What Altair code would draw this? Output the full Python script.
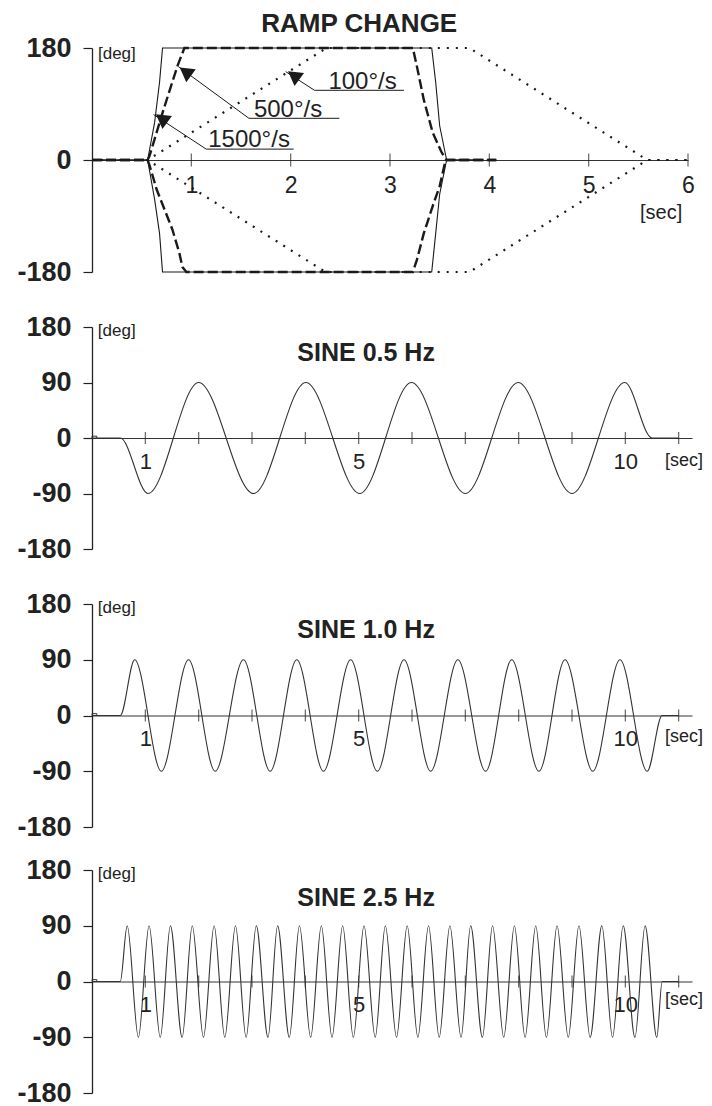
import altair as alt
import pandas as pd

FONT = "Liberation Sans"
INK = "#1a1a1a"
GREY = "#333333"

# ---------------- RAMP CHANGE panel (time [s], angle [deg]) ----------------
r1500_t = [0.00, 0.56, 0.63, 0.68, 0.71, 3.42, 3.46, 3.50, 3.57, 3.90]
r1500_pos = [0, 0, 60, 125, 180, 180, 125, 55, 0, 0]
r1500_neg = [0, 0, -63, -118, -180, -180, -118, -55, 0, 0]

r500_pos_t = [0.00, 0.56, 0.58, 0.65, 0.72, 0.79, 0.86, 0.93, 3.23, 3.27, 3.34, 3.43, 3.52, 3.57, 4.07]
r500_pos = [0, 0, 7, 44, 81, 116, 151, 180, 180, 151, 97, 44, 12, 0, 0]
r500_neg_t = [0.00, 0.56, 0.58, 0.65, 0.81, 0.88, 0.91, 0.95, 3.23, 3.27, 3.34, 3.43, 3.50, 3.56, 4.07]
r500_neg = [0, 0, -9, -47, -112, -150, -172, -180, -180, -161, -118, -74, -42, 0, 0]

r100_pos_t = [0.00, 0.56, 2.36, 3.80, 5.59, 6.00]
r100_pos = [0, 0, 180, 180, 0, 0]
r100_neg_t = [0.00, 0.56, 2.35, 3.80, 5.59, 6.00]
r100_neg = [0, 0, -180, -180, 0, 0]

# annotation arrows: tip, tail (start of underline), underline end, label, head
ann_label = ["100°/s", "500°/s", "1500°/s"]
ann_tip_t = [1.95, 0.87, 0.62]
ann_tip_v = [142, 150, 73]
ann_tail_t = [2.24, 1.58, 1.15]
ann_tail_v = [112, 67, 17.5]
ann_end_t = [3.14, 2.49, 2.03]
ann_text_t = [2.38, 1.63, 1.17]
ann_text_v = [114, 69.5, 21.5]
ann_head_t = [2.03, 0.94, 0.70]
ann_head_v = [136, 142, 67]

ramp_ticks = [1, 2, 3, 4, 5, 6]
ramp_xlabels = [1, 2, 3, 4, 5, 6]
ramp_ylabels = [-180, 0, 180]

# ---------------- SINE panels: turning points ----------------
s05_t = [0.00, 0.53, 1.05, 2.00, 3.03, 4.01, 5.02, 5.99, 7.00, 7.99, 9.00, 9.99, 10.50, 11.00]
s05_v = [0, 0, -90, 90, -90, 90, -90, 90, -90, 90, -90, 90, 0, 0]

s10_t = [0.00, 0.53, 0.80, 1.30, 1.81, 2.31, 2.84, 3.34, 3.84, 4.34, 4.85, 5.35,
         5.85, 6.35, 6.86, 7.38, 7.87, 8.38, 8.87, 9.39, 9.90, 10.41, 10.69, 11.00]
s10_v = [0, 0, 90, -90, 90, -90, 90, -90, 90, -90, 90, -90,
         90, -90, 90, -90, 90, -90, 90, -90, 90, -90, 0, 0]

s25_t = [0.00, 0.53,
         0.66, 0.87, 1.07, 1.28, 1.47, 1.69, 1.88, 2.09, 2.29, 2.49,
         2.69, 2.89, 3.08, 3.30, 3.48, 3.70, 3.89, 4.10, 4.30, 4.50,
         4.70, 4.90, 5.10, 5.31, 5.50, 5.71, 5.91, 6.11, 6.31, 6.51,
         6.71, 6.92, 7.10, 7.32, 7.51, 7.72, 7.92, 8.12, 8.32, 8.52,
         8.72, 8.93, 9.13, 9.34, 9.56, 9.76, 9.96, 10.18, 10.37, 10.59,
         10.69, 11.00]
s25_v = [0, 0,
         90, -90, 90, -90, 90, -90, 90, -90, 90, -90,
         90, -90, 90, -90, 90, -90, 90, -90, 90, -90,
         90, -90, 90, -90, 90, -90, 90, -90, 90, -90,
         90, -90, 90, -90, 90, -90, 90, -90, 90, -90,
         90, -90, 90, -90, 90, -90, 90, -90, 90, -90,
         0, 0]

blip_t = [0.00, 0.00, 0.09, 0.09]
blip_v = [0, 3, 3, 0]

sine_ticks = [1, 2, 3, 4, 5, 6, 7, 8, 9, 10, 11]
sine_xlabels = [1, 5, 10]
sine_ylabels = [-180, -90, 0, 90, 180]


def enc_x(domain, labels, size, height, pad):
    return alt.X("t:Q", scale=alt.Scale(domain=domain, nice=False, zero=False),
                 axis=alt.Axis(values=labels, title=None, labelExpr="'' + datum.value", grid=False,
                               ticks=False, tickSize=0, domain=True, domainColor=GREY,
                               domainWidth=1, labelFont=FONT, labelFontSize=size,
                               labelColor="#222", labelPadding=pad, labelFlush=False,
                               labelOverlap=False, offset=-height / 2))


def enc_y(labels):
    return alt.Y("v:Q", scale=alt.Scale(domain=[-180, 180], nice=False, zero=False),
                 axis=alt.Axis(values=labels, title=None, labelExpr="'' + datum.value", grid=False,
                               tickSize=9, tickColor="#222", tickWidth=1.2,
                               domainColor="#222", domainWidth=1.3,
                               labelFont=FONT, labelFontWeight="bold", labelFontSize=27,
                               labelColor="#222", labelPadding=12))


def frame(rows):
    return pd.DataFrame(rows, columns=["t", "v", "g", "o"])


# ---------- build ramp panel ----------
H1, W1 = 224, 596
X1 = enc_x([0, 6], ramp_xlabels, 23, H1, 14)
Y1 = enc_y(ramp_ylabels)

solid = frame([(t, v, "p", i) for i, (t, v) in enumerate(zip(r1500_t, r1500_pos))] +
              [(t, v, "n", i) for i, (t, v) in enumerate(zip(r1500_t, r1500_neg))])
dashed = frame([(t, v, "p", i) for i, (t, v) in enumerate(zip(r500_pos_t, r500_pos))] +
               [(t, v, "n", i) for i, (t, v) in enumerate(zip(r500_neg_t, r500_neg))])
dotted = frame([(t, v, "p", i) for i, (t, v) in enumerate(zip(r100_pos_t, r100_pos))] +
               [(t, v, "n", i) for i, (t, v) in enumerate(zip(r100_neg_t, r100_neg))])

leader_rows = []
for i in range(len(ann_label)):
    leader_rows.append((ann_tip_t[i], ann_tip_v[i], ann_label[i], 0))
    leader_rows.append((ann_tail_t[i], ann_tail_v[i], ann_label[i], 1))
    leader_rows.append((ann_end_t[i], ann_tail_v[i], ann_label[i], 2))
leaders = frame(leader_rows)
heads = pd.DataFrame({"t": ann_head_t, "v": ann_head_v})
ann_text = pd.DataFrame({"t": ann_text_t, "v": ann_text_v, "label": ann_label})

ramp_tick_df = pd.DataFrame({"t": ramp_ticks, "v": [0] * len(ramp_ticks)})


def line_layer(df, **mk):
    return alt.Chart(df).mark_line(**mk).encode(
        x=X1, y=Y1, detail="g:N", order="o:Q")


ramp = alt.layer(
    alt.Chart(ramp_tick_df).mark_tick(orient="vertical", size=13, thickness=1.2, color="#222").encode(x=X1, y=Y1),
    line_layer(dotted, color=INK, strokeWidth=2.2, strokeDash=[2, 7]),
    line_layer(dashed, color=INK, strokeWidth=2.4, strokeDash=[10, 4]),
    line_layer(solid, color=INK, strokeWidth=1.1),
    alt.Chart(leaders).mark_line(color=INK, strokeWidth=1).encode(x=X1, y=Y1, detail="g:N", order="o:Q"),
    alt.Chart(heads).mark_point(shape="triangle-up", filled=True, size=260, angle=306,
                                color=INK, opacity=1).encode(x=X1, y=Y1),
    alt.Chart(ann_text).mark_text(font=FONT, fontSize=24, align="left", baseline="alphabetic",
                                  color="#222").encode(x=X1, y=Y1, text="label:N"),
    alt.Chart(pd.DataFrame({"t": [2.69], "v": [218], "label": ["RAMP CHANGE"]})).mark_text(
        font=FONT, fontSize=26, fontWeight="bold", align="center", baseline="middle",
        color="#222").encode(x=X1, y=Y1, text="label:N"),
    alt.Chart(pd.DataFrame({"t": [0.06], "v": [171], "label": ["[deg]"]})).mark_text(
        font=FONT, fontSize=17, align="left", baseline="middle", color="#222").encode(
        x=X1, y=Y1, text="label:N"),
    alt.Chart(pd.DataFrame({"t": [5.73], "v": [-85], "label": ["[sec]"]})).mark_text(
        font=FONT, fontSize=20, align="center", baseline="middle", color="#222").encode(
        x=X1, y=Y1, text="label:N"),
).properties(width=W1, height=H1)


def sine_panel(times, values, title, title_v, sec_v, height):
    W = 600
    X = enc_x([0, 11.25], sine_xlabels, 22, height, 13)
    Y = enc_y(sine_ylabels)
    wave = pd.DataFrame({"t": times, "v": values})
    blip = pd.DataFrame({"t": blip_t, "v": blip_v, "o": list(range(len(blip_t)))})
    tick_df = pd.DataFrame({"t": sine_ticks, "v": [0] * len(sine_ticks)})
    return alt.layer(
        alt.Chart(tick_df).mark_tick(orient="vertical", size=12, thickness=1.2, color="#222").encode(x=X, y=Y),
        alt.Chart(blip).mark_line(color=GREY, strokeWidth=1).encode(x=X, y=Y, order="o:Q"),
        alt.Chart(wave).mark_line(color=GREY, strokeWidth=1.1, interpolate="monotone").encode(x=X, y=Y),
        alt.Chart(pd.DataFrame({"t": [5.14], "v": [title_v], "label": [title]})).mark_text(
            font=FONT, fontSize=25, fontWeight="bold", align="center", baseline="middle",
            color="#222").encode(x=X, y=Y, text="label:N"),
        alt.Chart(pd.DataFrame({"t": [0.11], "v": [174], "label": ["[deg]"]})).mark_text(
            font=FONT, fontSize=17, align="left", baseline="middle", color="#222").encode(
            x=X, y=Y, text="label:N"),
        alt.Chart(pd.DataFrame({"t": [11.1], "v": [sec_v], "label": ["[sec]"]})).mark_text(
            font=FONT, fontSize=18, align="center", baseline="middle", color="#222").encode(
            x=X, y=Y, text="label:N"),
    ).properties(width=W, height=height)


p2 = sine_panel(s05_t, s05_v, "SINE 0.5 Hz", 138, -37, 222)
p3 = sine_panel(s10_t, s10_v, "SINE 1.0 Hz", 138, -34, 223)
p4 = sine_panel(s25_t, s25_v, "SINE 2.5 Hz", 135, -30, 223)

inner = alt.vconcat(ramp, p2, p3, spacing=28)
chart = alt.vconcat(inner, p4, spacing=16).properties(
    padding={"left": 16, "top": 11, "right": 5, "bottom": 5},
    background="white",
).configure_view(stroke=None)

chart.save("out.html", embed_options={"renderer": "svg", "actions": False})
